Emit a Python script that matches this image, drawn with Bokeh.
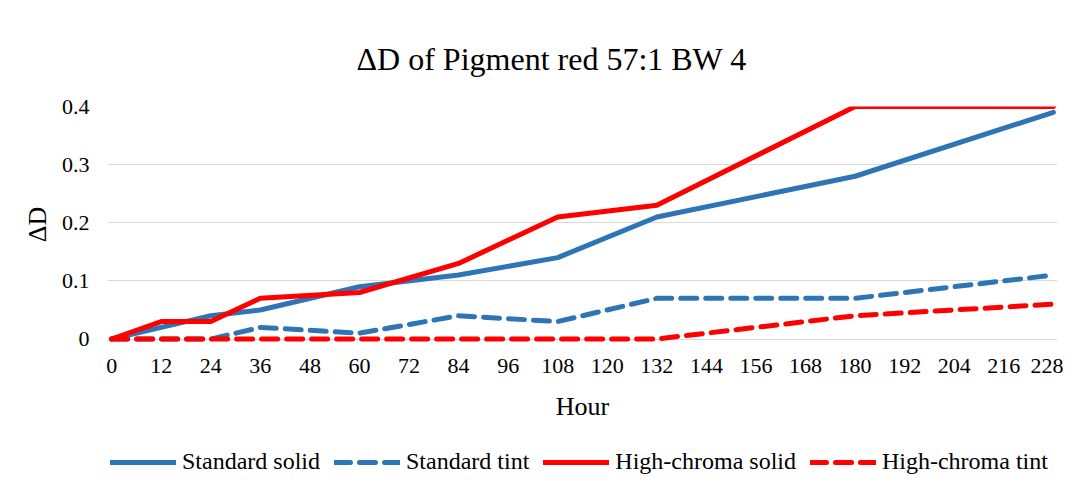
from bokeh.plotting import figure
from bokeh.layouts import column
from bokeh.models import (Range1d, FixedTicker, CustomJSTickFormatter, Legend,
                          LegendItem, ColumnDataSource)
from bokeh.embed import file_html
from bokeh.resources import INLINE

# ---- data ----
hours = [0, 12, 24, 36, 60, 84, 108, 132, 180, 228]
standard_solid = [0, 0.02, 0.04, 0.05, 0.09, 0.11, 0.14, 0.21, 0.28, 0.39]
standard_tint = [0, 0, 0, 0.02, 0.01, 0.04, 0.03, 0.07, 0.07, 0.11]
high_chroma_solid = [0, 0.03, 0.03, 0.07, 0.08, 0.13, 0.21, 0.23, 0.40, 0.40]
high_chroma_tint = [0, 0, 0, 0, 0, 0, 0, 0, 0.04, 0.06]
x_ticks = list(range(0, 229, 12))
y_ticks = [0, 0.1, 0.2, 0.3, 0.4]
series_names = ["Standard solid", "Standard tint", "High-chroma solid", "High-chroma tint"]
title_text = "\u0394D of Pigment red 57:1 BW 4"

FONT = "Liberation Serif"
BLUE = "#2E75B6"
RED = "#FF0000"
W = 5
DASH = "16 9"

styles = [dict(line_color=BLUE), dict(line_color=BLUE, line_dash=DASH),
          dict(line_color=RED), dict(line_color=RED, line_dash=DASH)]
columns = ["ss", "st", "hs", "ht"]

# ---------------- main chart ----------------
p = figure(width=1063, height=436, output_backend="svg", toolbar_location=None,
           x_range=Range1d(-1, 229), y_range=Range1d(-0.006, 0.4),
           min_border_left=107, min_border_right=6, min_border_top=106,
           min_border_bottom=94)

p.title.text = title_text
p.title.text_font = FONT
p.title.text_font_size = "32px"
p.title.text_font_style = "normal"
p.title.align = "left"
p.title.offset = 249
p.title.standoff = 59
p.title.text_color = "#000000"

p.outline_line_color = None
p.background_fill_color = "white"
p.border_fill_color = "white"

p.xaxis.ticker = FixedTicker(ticks=x_ticks)
p.yaxis.ticker = FixedTicker(ticks=y_ticks)
p.yaxis.formatter = CustomJSTickFormatter(code="return tick < 1e-9 ? '0' : tick.toFixed(1);")
for ax in (p.xaxis, p.yaxis):
    ax.axis_line_color = None
    ax.major_tick_line_color = None
    ax.minor_tick_line_color = None
    ax.major_tick_out = 0
    ax.major_tick_in = 0
    ax.minor_tick_out = 0
    ax.minor_tick_in = 0
    ax.major_label_text_font = FONT
    ax.major_label_text_font_size = "22px"
    ax.major_label_text_color = "#000000"
    ax.axis_label_text_font = FONT
    ax.axis_label_text_font_size = "26px"
    ax.axis_label_text_font_style = "normal"
    ax.axis_label_text_color = "#000000"
p.xaxis.axis_label = "Hour"
p.yaxis.axis_label = "\u0394D"
p.xaxis.major_label_standoff = 16
p.xaxis.axis_label_standoff = 16
p.yaxis.major_label_standoff = 18
p.yaxis.axis_label_standoff = 7

p.xgrid.grid_line_color = None
p.ygrid.grid_line_color = "#D9D9D9"
p.ygrid.grid_line_width = 1

src = ColumnDataSource(dict(h=hours, ss=standard_solid, st=standard_tint,
                            hs=high_chroma_solid, ht=high_chroma_tint))
for col, st in zip(columns, styles):
    p.line("h", col, source=src, line_width=W, line_cap="round", line_join="round", **st)

# ---------------- legend strip ----------------
# Same series drawn on a range far outside the data, so only the legend shows.
lf = figure(width=1063, height=49, output_backend="svg", toolbar_location=None,
            x_range=Range1d(1000, 1001), y_range=Range1d(1000, 1001),
            x_axis_location=None, y_axis_location=None,
            min_border=0, min_border_left=0, min_border_right=0,
            min_border_top=0, min_border_bottom=0)
lf.outline_line_color = None
lf.grid.grid_line_color = None
lf.background_fill_color = "white"
lf.border_fill_color = "white"

legend_renderers = [lf.line("h", col, source=src, line_width=W, line_cap="round", **st)
                    for col, st in zip(columns, styles)]

legend = Legend(items=[LegendItem(label=n, renderers=[r]) for n, r in zip(series_names, legend_renderers)],
                orientation="horizontal", location=(3, 10),
                label_text_font=FONT, label_text_font_size="24px", label_text_color="#000000",
                glyph_width=66, glyph_height=24, label_standoff=6, spacing=14,
                padding=0, margin=0, border_line_color=None, background_fill_alpha=0)
lf.add_layout(legend)

layout = column(p, lf, spacing=0)
open("out.html", "w").write(file_html(layout, INLINE))
